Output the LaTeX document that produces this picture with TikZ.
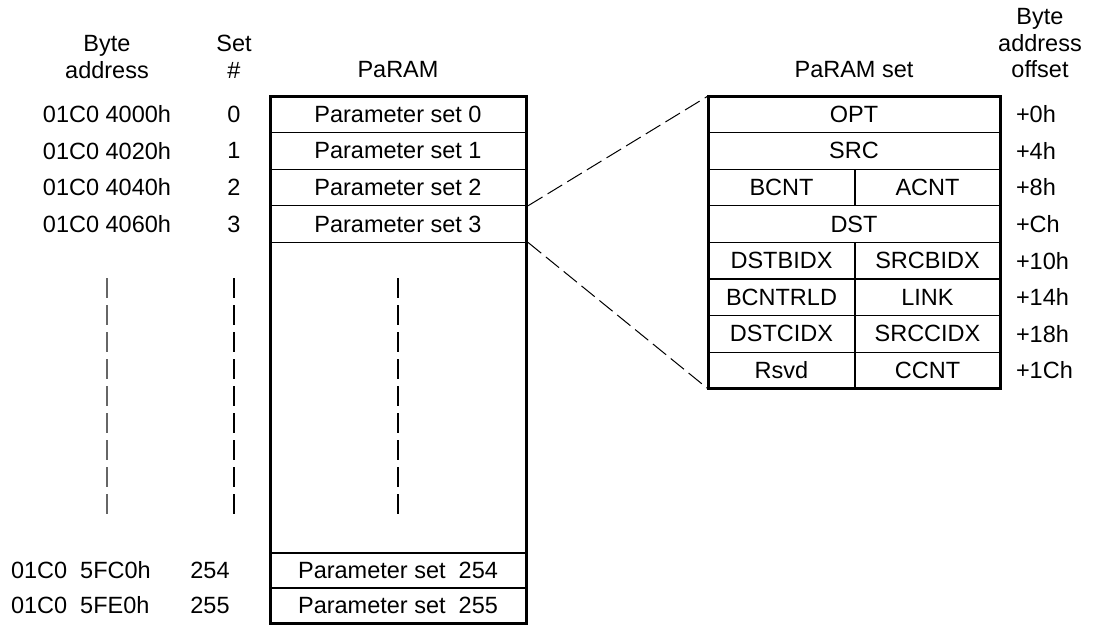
\documentclass[tikz,border=0pt]{standalone}
\usepackage{fontspec}
\setmainfont{Liberation Sans}
\begin{document}
\begin{tikzpicture}[x=1pt,y=-1pt,
  every node/.style={inner sep=0pt,outer sep=0pt,font=\fontsize{23.5}{26.5}\selectfont},
  cell/.style={draw=black,line width=1.2pt,minimum height=36.6pt},
  pcell/.style={cell,minimum width=256pt},
  wcell/.style={cell,minimum width=292pt},
  lcell/.style={cell,minimum width=147pt},
  rcell/.style={cell,minimum width=145pt},
  outer/.style={draw=black,line width=3pt},
  zoomline/.style={draw=black,line width=1pt,dash pattern=on 17pt off 6pt},
  vdash/.style={line width=1.3pt,dash pattern=on 20pt off 7pt},
  hdr/.style={align=center},
  off/.style={anchor=west}
]
\useasboundingbox (0,0) rectangle (1096,625);

% headers
\node[hdr] (h1) at (107,57) {Byte\\address};
\node[hdr] (h2) at (234,57) {Set\\\#};
\node[hdr] (h3) at (398,70) {PaRAM};
\node[hdr] (h4) at (854,70) {PaRAM set};
\node[hdr] (h5) at (1040,43.5) {Byte\\address\\offset};

% PaRAM column
\node[pcell] (p0) at (398,114.3) {Parameter set 0};
\node[pcell] (p1) at (398,150.9) {Parameter set 1};
\node[pcell] (p2) at (398,187.5) {Parameter set 2};
\node[pcell] (p3) at (398,224.1) {Parameter set 3};
\node[pcell,minimum height=35pt] (p254) at (398,570.5) {Parameter set\ \ 254};
\node[pcell,minimum height=35pt] (p255) at (398,605.5) {Parameter set\ \ 255};
\node[outer,minimum width=256pt,minimum height=527pt] (param) at (398,359.5) {};

% addresses and set numbers
\node (a0) at (107,114.3) {01C0 4000h};
\node (a1) at (107,150.9) {01C0 4020h};
\node (a2) at (107,187.5) {01C0 4040h};
\node (a3) at (107,224.1) {01C0 4060h};
\node[anchor=west] (a254) at (11,570.5) {01C0\ \ 5FC0h};
\node[anchor=west] (a255) at (11,605.5) {01C0\ \ 5FE0h};
\node (s0) at (234,114.3) {0};
\node (s1) at (234,150.9) {1};
\node (s2) at (234,187.5) {2};
\node (s3) at (234,224.1) {3};
\node (s254) at (210,570.5) {254};
\node (s255) at (210,605.5) {255};

% vertical ellipsis dashes
\draw[vdash,draw=black!60] (107,278) -- (107,514);
\draw[vdash,draw=black] (234,278) -- (234,514);
\draw[vdash,draw=black] (398,278) -- (398,514);

% PaRAM set detail
\node[wcell] (opt) at (854,114.3) {OPT};
\node[wcell] (src) at (854,150.9) {SRC};
\node[lcell] (bcnt) at (781.5,187.5) {BCNT};
\node[rcell] (acnt) at (927.5,187.5) {ACNT};
\node[wcell] (dst) at (854,224.1) {DST};
\node[lcell] (dstbidx) at (781.5,260.7) {DSTBIDX};
\node[rcell] (srcbidx) at (927.5,260.7) {SRCBIDX};
\node[lcell] (bcntrld) at (781.5,297.3) {BCNTRLD};
\node[rcell] (link) at (927.5,297.3) {LINK};
\node[lcell] (dstcidx) at (781.5,333.9) {DSTCIDX};
\node[rcell] (srccidx) at (927.5,333.9) {SRCCIDX};
\node[lcell] (rsvd) at (781.5,370.5) {Rsvd};
\node[rcell] (ccnt) at (927.5,370.5) {CCNT};
\node[outer,minimum width=292pt,minimum height=292.8pt] (pset) at (854,242.4) {};

% offsets
\node[off] (o0) at (1016,114.3) {+0h};
\node[off] (o1) at (1016,150.9) {+4h};
\node[off] (o2) at (1016,187.5) {+8h};
\node[off] (o3) at (1016,224.1) {+Ch};
\node[off] (o4) at (1016,260.7) {+10h};
\node[off] (o5) at (1016,297.3) {+14h};
\node[off] (o6) at (1016,333.9) {+18h};
\node[off] (o7) at (1016,370.5) {+1Ch};

% zoom lines
\draw[zoomline] ([xshift=2pt]p2.south east) -- (pset.north west);
\draw[zoomline] ([xshift=2pt]p3.south east) -- (pset.south west);
\end{tikzpicture}
\end{document}
